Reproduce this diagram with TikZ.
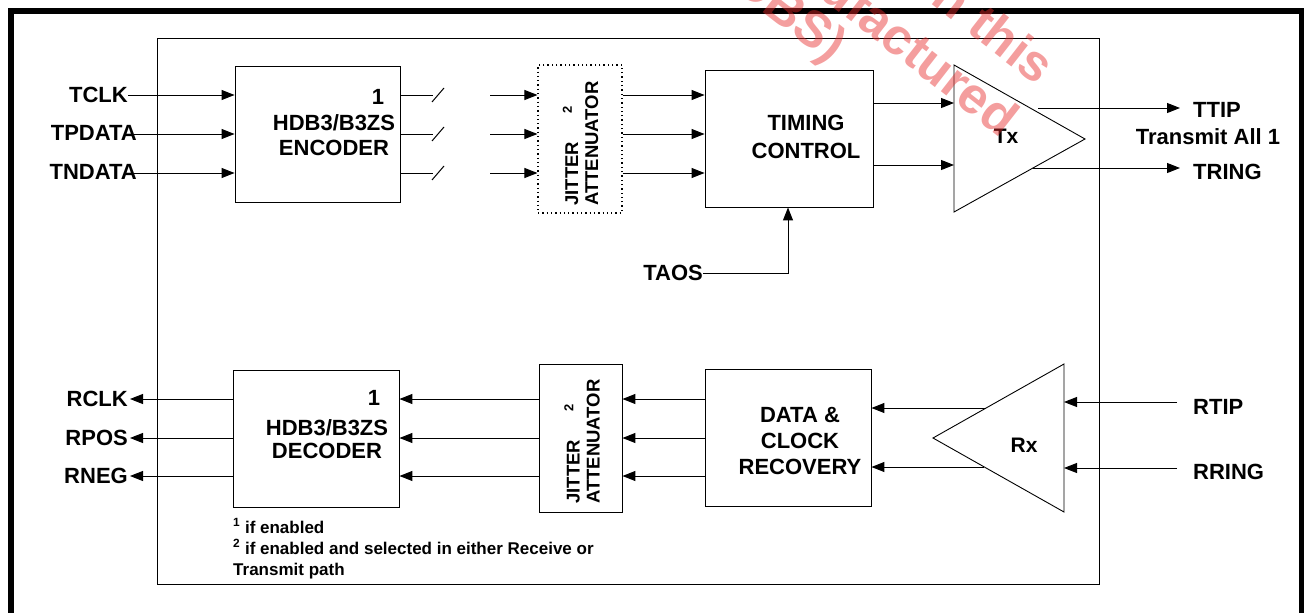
\documentclass[tikz,border=0pt]{standalone}
\usepackage{fontspec}
\setmainfont{Liberation Sans}
\usetikzlibrary{arrows.meta}
\definecolor{wmred}{RGB}{230,40,40}
\begin{document}
\begin{tikzpicture}[x=1pt,y=-1pt,
  blk/.style={draw,line width=0.9pt,inner sep=0pt},
  wire/.style={line width=1pt},
  sig/.style={line width=1pt,-{Triangle[length=13pt,width=10pt]}},
  lab/.style={font=\fontsize{22}{25}\selectfont\bfseries,inner sep=0pt},
  jit/.style={font=\fontsize{18.5}{20}\selectfont\bfseries,inner sep=0pt,rotate=90,align=left},
  note/.style={font=\fontsize{17}{21}\selectfont\bfseries,inner sep=0pt,align=left},
  wm/.style={font=\fontsize{51}{56}\selectfont\bfseries,text=wmred,text opacity=0.45,inner sep=0pt,rotate=-38,anchor=east}
]
\useasboundingbox (0,0) rectangle (1304,613);
% outer frame
\draw[line width=6pt] (11,640) -- (11,11) -- (1302,11) -- (1302,640);
% inner frame
\node[blk,minimum width=942pt,minimum height=546pt] (chip) at (628,311) {};

% row coordinates
\coordinate (ra) at (0,95);
\coordinate (rb) at (0,134);
\coordinate (rc) at (0,173);
\coordinate (ta) at (0,103);
\coordinate (tb) at (0,165);
\coordinate (da) at (0,399);
\coordinate (db) at (0,438);
\coordinate (dc) at (0,476);
\coordinate (xa) at (0,408);
\coordinate (xb) at (0,467);

% boxes
\node[blk,minimum width=165pt,minimum height=136pt] (enc) at (317.5,134) {};
\node[draw,line width=1.1pt,dash pattern=on 1.3pt off 3pt,inner sep=0pt,minimum width=84pt,minimum height=148pt] (jt) at (580,139) {};
\node[blk,minimum width=168pt,minimum height=137pt] (tim) at (789,138.5) {};
\node[blk,minimum width=166pt,minimum height=137pt] (dec) at (316,438.5) {};
\node[blk,minimum width=83pt,minimum height=148pt] (jr) at (580.5,438) {};
\node[blk,minimum width=166pt,minimum height=137pt] (dcr) at (788,437.5) {};

% triangles
\coordinate (txa) at (954,65);
\coordinate (txb) at (954,212);
\coordinate (txc) at (1085,139);
\draw[line width=0.9pt,line join=miter] (txa) -- (txc) -- (txb) -- cycle;
\coordinate (rxa) at (1064,364);
\coordinate (rxb) at (1064,512);
\coordinate (rxc) at (933,438);
\draw[line width=0.9pt,line join=miter] (rxa) -- (rxc) -- (rxb) -- cycle;

% box texts
\node[lab] (enc1) at (378,97) {1};
\node[lab,align=center] (enct) at (334,135.5) {HDB3/B3ZS\\ENCODER};
\node[lab] (dec1) at (374,398) {1};
\node[lab,align=center,font=\fontsize{22}{23}\selectfont\bfseries] (dect) at (327,439.5) {HDB3/B3ZS\\DECODER};
\node[jit] (jtt) at (580.5,143.5) {JITTER\hspace{28pt}\textsuperscript{2}\\ATTENUATOR};
\node[jit] (jrt) at (582,441.5) {JITTER\hspace{28pt}\textsuperscript{2}\\ATTENUATOR};
\node[lab,align=center,font=\fontsize{22}{28}\selectfont\bfseries] (timt) at (806,137) {TIMING\\CONTROL};
\node[lab,align=center,font=\fontsize{22}{26}\selectfont\bfseries] (dcrt) at (800,441) {DATA \&\\CLOCK\\RECOVERY};
\node[lab,font=\fontsize{21}{24}\selectfont\bfseries] (txt) at (1006,136) {Tx};
\node[lab,font=\fontsize{21}{24}\selectfont\bfseries] (rxt) at (1024,445) {Rx};

% pin labels
\node[lab,anchor=east] (tclk) at (128,95) {TCLK};
\node[lab,anchor=east] (tpd) at (137,133) {TPDATA};
\node[lab,anchor=east] (tnd) at (137,172) {TNDATA};
\node[lab,anchor=east] (rclk) at (128,399) {RCLK};
\node[lab,anchor=east] (rpos) at (128,438) {RPOS};
\node[lab,anchor=east] (rneg) at (128,476) {RNEG};
\node[lab,anchor=east] (taos) at (703,273) {TAOS};
\node[lab,anchor=west] (ttip) at (1193,110) {TTIP};
\node[lab] (tall) at (1208,137) {Transmit All 1};
\node[lab,anchor=west] (tring) at (1193,172) {TRING};
\node[lab,anchor=west] (rtip) at (1193,407) {RTIP};
\node[lab,anchor=west] (rring) at (1193,472) {RRING};

% transmit inputs
\coordinate (ia) at (128,95);
\coordinate (ib) at (128,134);
\coordinate (ic) at (128,173);
\draw[sig] (ia) -- (enc.west |- ra);
\draw[sig] (ib) -- (enc.west |- rb);
\draw[sig] (ic) -- (enc.west |- rc);

% encoder outputs with switches
\foreach \r/\yy in {ra/95,rb/134,rc/173}{
  \draw[wire] (enc.east |- \r) -- (433,\yy);
  \draw[wire] (432,\yy+7) -- (444,\yy-7);
  \draw[sig] (490,\yy) -- (jt.west |- \r);
  \draw[sig] (jt.east |- \r) -- (tim.west |- \r);
}

% timing to Tx
\draw[sig] (tim.east |- ta) -- (txa |- ta);
\draw[sig] (tim.east |- tb) -- (txa |- tb);
% TAOS
\coordinate (taosc) at (788,273);
\draw[sig] (taos.east) -- (taosc) -- (tim.south -| taosc);
% Tx outputs
\coordinate (ttips) at (1038,108);
\coordinate (ttipe) at (1180,108);
\coordinate (trings) at (1033,168);
\coordinate (tringe) at (1180,168);
\draw[sig] (ttips) -- (ttipe);
\draw[sig] (trings) -- (tringe);

% receive side
\coordinate (rtips) at (1177,402);
\coordinate (rrings) at (1177,468);
\draw[sig] (rtips) -- (rxa |- rtips);
\draw[sig] (rrings) -- (rxa |- rrings);
\coordinate (rxo1) at (986,408);
\coordinate (rxo2) at (984,467);
\draw[sig] (rxo1) -- (dcr.east |- xa);
\draw[sig] (rxo2) -- (dcr.east |- xb);
\foreach \r in {da,db,dc}{
  \draw[sig] (dcr.west |- \r) -- (jr.east |- \r);
  \draw[sig] (jr.west |- \r) -- (dec.east |- \r);
}
\coordinate (oa) at (130,399);
\coordinate (ob) at (130,438);
\coordinate (oc) at (130,476);
\draw[sig] (dec.west |- da) -- (oa);
\draw[sig] (dec.west |- db) -- (ob);
\draw[sig] (dec.west |- dc) -- (oc);

% footnotes
\node[note,anchor=north west] (fn) at (233,518.5) {\textsuperscript{1} if enabled\\\textsuperscript{2} if enabled and selected in either Receive or\\Transmit path};

% watermark
\begin{scope}
\clip (0,0) rectangle (1304,613);
\node[wm] (wm1) at (838,54) {(DBS)};
\node[wm] (wm2) at (1012,124) {manufactured};
\node[wm] (wm3) at (1048,72) {in this};
\end{scope}
\end{tikzpicture}
\end{document}
